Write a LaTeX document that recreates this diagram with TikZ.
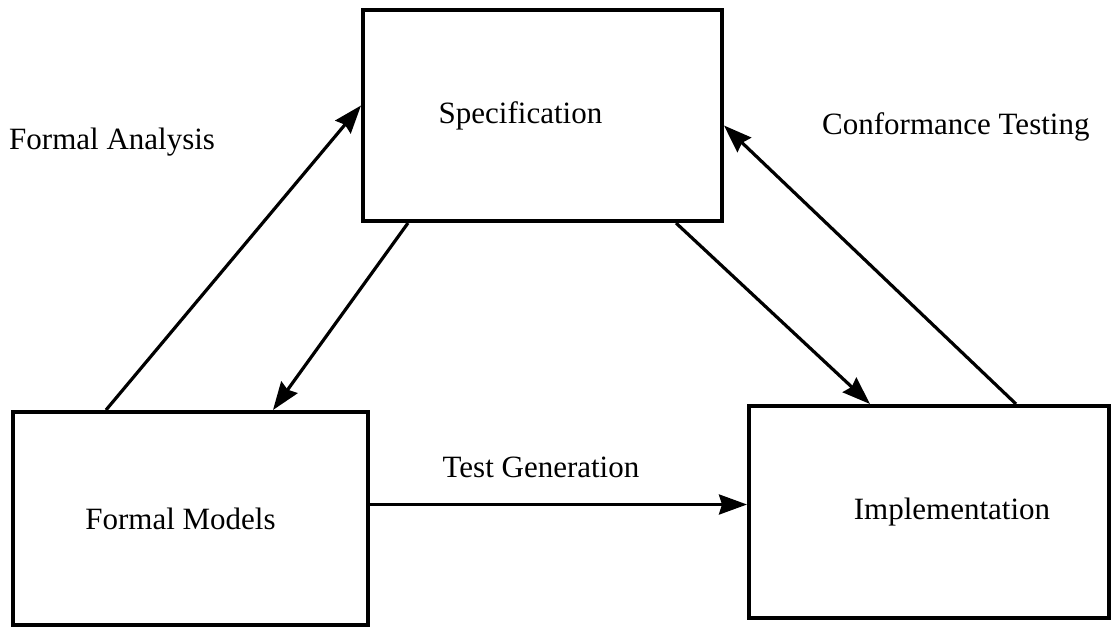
\documentclass[tikz,border=0pt]{standalone}
\usepackage{fontspec}
\setmainfont{Liberation Serif}
\usetikzlibrary{arrows.meta,positioning}
\tikzset{
    block/.style={rectangle, draw, line width=4pt, inner sep=0pt},
    flow/.style={-{Stealth[length=28pt,width=20pt,inset=3pt]}, line width=3.2pt},
    lbl/.style={inner sep=0pt}
}
\begin{document}
\begin{tikzpicture}[x=1pt, y=-1pt, font=\fontsize{31}{36}\selectfont]
    \useasboundingbox (0,0) rectangle (1111,627);
    \node[block, minimum width=359pt, minimum height=211pt] (Spec) at (542.5,115.5) {Specification\hspace*{44pt}};
    \node[block, minimum width=355pt, minimum height=213pt] (Models) at (190.5,518.5) {\raisebox{-5pt}{Formal Models}\hspace*{20pt}};
    \node[block, minimum width=360pt, minimum height=212pt] (Impl) at (929,512) {\hspace*{46pt}\raisebox{-5pt}{Implementation}};
    % arrows between the boxes
    \draw[flow] ([xshift=95pt]Models.north west) to ([yshift=10pt]Spec.west);
    \draw[flow] ([xshift=47pt]Spec.south west) to ([xshift=262pt]Models.north west);
    \draw[flow] ([xshift=315pt]Spec.south west) to ([xshift=123pt]Impl.north west);
    \draw[flow] ([xshift=269pt]Impl.north west) to ([yshift=-10pt]Spec.east);
    \draw[flow] ([yshift=14pt]Models.east) to ([yshift=14pt]Models.east -| Impl.west);
    % labels
    \node[lbl, anchor=west] (analysis) at (9,142) {Formal Analysis};
    \node[lbl, anchor=west] (conformance) at (822,127) {Conformance Testing};
    \node[lbl] (testgen) at (541,467) {Test Generation};
\end{tikzpicture}
\end{document}
